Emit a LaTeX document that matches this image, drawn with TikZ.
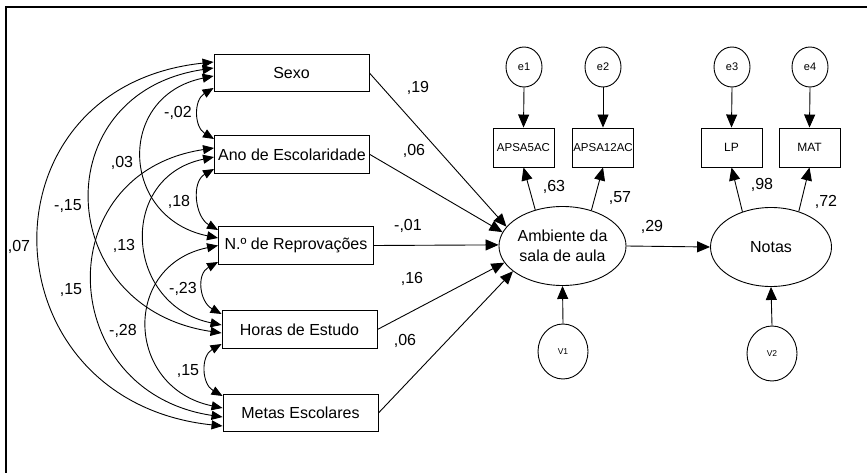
\documentclass[tikz,border=0pt]{standalone}
\usepackage{fontspec}
\setmainfont{Liberation Sans}
\usetikzlibrary{arrows.meta,shapes.geometric}
\begin{document}
\begin{tikzpicture}[x=1pt,y=-1pt,
  every node/.style={font=\fontsize{16}{20}\selectfont},
  obs/.style={draw,rectangle,minimum width=155pt,minimum height=37.5pt,inner sep=0pt,line width=0.9pt},
  ind/.style={draw,rectangle,minimum width=61pt,minimum height=39pt,inner sep=0pt,line width=0.9pt},
  lat/.style={draw,ellipse,minimum width=121pt,minimum height=79pt,inner sep=0pt,line width=0.9pt,align=center},
  err/.style={draw,ellipse,minimum width=36pt,minimum height=40pt,inner sep=0pt,line width=0.9pt,font=\fontsize{11}{13}\selectfont},
  res/.style={draw,ellipse,minimum width=50pt,minimum height=55pt,inner sep=0pt,line width=0.9pt,font=\fontsize{8.5}{10}\selectfont},
  lbl/.style={inner sep=0pt},
  dirarr/.style={line width=0.9pt,-{Triangle[length=13pt,width=11pt]}},
  covarr/.style={line width=0.9pt,{Triangle[length=11pt,width=9pt]}-{Triangle[length=11pt,width=9pt]}},
]
\useasboundingbox (0,0) rectangle (867,473);
\draw[line width=1.7pt] (6.3,490) -- (6.3,7.3) -- (880,7.3);

% exogenous observed
\node[obs] (sexo)  at (291.5,73)    {Sexo};
\node[obs] (ano)   at (292,154.5)   {Ano de Escolaridade};
\node[obs] (rep)   at (296,245.5)   {N.º de Reprovações};
\node[obs] (horas) at (299.5,329.5) {Horas de Estudo};
\node[obs] (metas) at (300.5,413)   {Metas Escolares};

% latent
\node[lat] (amb)   at (562.5,246) {Ambiente da\\sala de aula};
\node[lat] (notas) at (771,247)   {Notas};

% indicators
\node[ind,font=\fontsize{11.5}{13}\selectfont] (apsa5)  at (523.5,147.5) {APSA5AC};
\node[ind,font=\fontsize{11.5}{13}\selectfont] (apsa12) at (603,147.5)   {APSA12AC};
\node[ind,font=\fontsize{12}{14}\selectfont]   (lp)     at (731.5,147.5) {LP};
\node[ind,font=\fontsize{12}{14}\selectfont]   (mat)    at (809.5,147.5) {MAT};

% errors
\node[err] (e1) at (524,67) {e1};
\node[err] (e2) at (603,67) {e2};
\node[err] (e3) at (732,67) {e3};
\node[err] (e4) at (810,67) {e4};
\node[res] (v1) at (563,351.5) {V1};
\node[res] (v2) at (772,353.5) {V2};

% structural paths
\draw[dirarr] (sexo.east)  -- (amb.161);
\draw[dirarr] (ano.east)   -- (amb.167);
\draw[dirarr] (rep.east)   -- (amb.179);
\draw[dirarr] (horas.east) -- (amb.196);
\draw[dirarr] (metas.east) -- (amb.207);
\draw[dirarr] (amb.east) -- (notas.west);

% loadings
\draw[dirarr] (amb.127) -- (apsa5.south);
\draw[dirarr] (amb.51) -- (apsa12.south);
\draw[dirarr] (notas.129) -- (lp.south);
\draw[dirarr] (notas.52) -- (mat.south);

% errors
\draw[dirarr] (e1.south) -- (apsa5.north);
\draw[dirarr] (e2.south) -- (apsa12.north);
\draw[dirarr] (e3.south) -- (lp.north);
\draw[dirarr] (e4.south) -- (mat.north);
\draw[dirarr] (v1.north) -- (amb.south);
\draw[dirarr] (v2.north) -- (notas.south);

% covariances
\draw[covarr] ([yshift=-15pt]sexo.west) .. controls +(-20,12) and +(-20,-12) .. ([yshift=15.5pt]ano.west);
\draw[covarr] ([yshift=-14.5pt]ano.west) .. controls +(-23,13) and +(-23,-13) .. ([yshift=15.5pt]rep.west);
\draw[covarr] ([yshift=-16.5pt]rep.west) .. controls +(-22,12) and +(-22,-12) .. ([yshift=15.5pt]horas.west);
\draw[covarr] ([yshift=-14.5pt]horas.west) .. controls +(-21,12) and +(-21,-12) .. ([yshift=17pt]metas.west);
\draw[covarr] ([yshift=-3pt]sexo.west) .. controls +(-98,20) and +(-98,-20) .. ([yshift=7.5pt]rep.west);
\draw[covarr] ([yshift=-2.5pt]ano.west) .. controls +(-97,20) and +(-97,-20) .. ([yshift=4.5pt]horas.west);
\draw[covarr] (rep.west) .. controls +(-97,20) and +(-97,-20) .. ([yshift=5pt]metas.west);
\draw[covarr] ([yshift=5pt]sexo.west) .. controls +(-169,25) and +(-169,-25) .. ([yshift=-3.5pt]horas.west);
\draw[covarr] ([yshift=6.5pt]ano.west) .. controls +(-167,25) and +(-167,-25) .. ([yshift=-4pt]metas.west);
\draw[covarr] ([yshift=11pt]sexo.west) .. controls +(-238,25) and +(-238,-25) .. ([yshift=-13pt]metas.west);

% covariance labels
\node[lbl] at (178,113) {-,02};
\node[lbl] at (179,202) {,18};
\node[lbl] at (183,289) {-,23};
\node[lbl] at (188,371) {,15};
\node[lbl] at (122,163) {,03};
\node[lbl] at (124,246) {,13};
\node[lbl] at (123,331) {-,28};
\node[lbl] at (68,206)  {-,15};
\node[lbl] at (71,290)  {,15};
\node[lbl] at (19,247)  {,07};

% path labels
\node[lbl] at (418,88)  {,19};
\node[lbl] at (414,151) {,06};
\node[lbl] at (408,226) {-,01};
\node[lbl] at (412,279) {,16};
\node[lbl] at (405,341) {,06};
\node[lbl] at (652,227) {,29};
\node[lbl] at (554,187) {,63};
\node[lbl] at (620,198) {,57};
\node[lbl] at (762,185) {,98};
\node[lbl] at (826,202) {,72};
\end{tikzpicture}
\end{document}
